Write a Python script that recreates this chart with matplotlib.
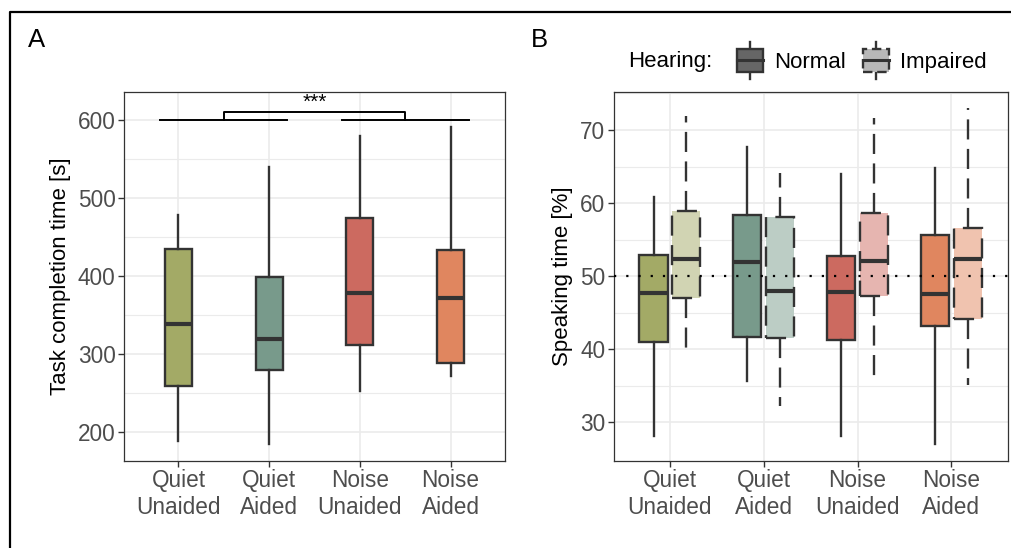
import matplotlib
matplotlib.use("Agg")
import matplotlib.pyplot as plt
from matplotlib.legend_handler import HandlerBase
from matplotlib.patches import Rectangle, Patch
from matplotlib.lines import Line2D
from matplotlib.colors import to_rgba

plt.rcParams['font.family'] = ['Liberation Sans', 'DejaVu Sans']

# categories and colours
conditions = ["Quiet\nUnaided", "Quiet\nAided", "Noise\nUnaided", "Noise\nAided"]
cond_colors = ["#a3aa66", "#789a8b", "#cc6a60", "#e0865f"]

# panel A: task completion time [s]  (low whisker, Q1, median, Q3, high whisker)
task_low = [188, 185, 253, 272]
task_q1 = [259, 279, 312, 289]
task_med = [338, 319, 378, 372]
task_q3 = [435, 399, 474, 433]
task_high = [478, 540, 579, 591]

# panel B: speaking time [%], normal hearing
nh_low = [28.1, 35.7, 28.1, 27.0]
nh_q1 = [41.0, 41.7, 41.3, 43.2]
nh_med = [47.7, 52.0, 47.8, 47.6]
nh_q3 = [52.9, 58.4, 52.7, 55.6]
nh_high = [60.8, 67.7, 64.0, 64.8]

# panel B: speaking time [%], impaired hearing
hi_low = [39.1, 32.2, 35.9, 35.1]
hi_q1 = [47.0, 41.5, 47.3, 44.2]
hi_med = [52.4, 48.0, 52.1, 52.4]
hi_q3 = [58.9, 58.1, 58.6, 56.6]
hi_high = [71.9, 64.1, 71.6, 73.0]

EDGE = "#333333"
GRID = "#ebebeb"
TICKC = "#4d4d4d"
DASH = (0, (8.5, 4))
TICKFS = 16.3
TITLEFS = 16


def stats(low, q1, med, q3, high):
    return [dict(whislo=a, q1=b, med=c, q3=d, whishi=e, fliers=[])
            for a, b, c, d, e in zip(low, q1, med, q3, high)]


def light(c):
    r, g, b, _ = to_rgba(c)
    return (1 - 0.5 * (1 - r), 1 - 0.5 * (1 - g), 1 - 0.5 * (1 - b))


def draw_boxes(ax, st, pos, colors, ls):
    bp = ax.bxp(st, positions=pos, widths=0.3, patch_artist=True,
                showcaps=False, showfliers=False, manage_ticks=False,
                boxprops=dict(edgecolor=EDGE, linewidth=1.7, linestyle=ls),
                whiskerprops=dict(color=EDGE, linewidth=1.7, linestyle=ls),
                medianprops=dict(color=EDGE, linewidth=3.0, solid_capstyle='butt'),
                zorder=3)
    for patch, c in zip(bp['boxes'], colors):
        patch.set_facecolor(c)
    return bp


def style_axes(ax):
    ax.set_facecolor("white")
    for s in ax.spines.values():
        s.set_color(EDGE)
        s.set_linewidth(0.9)
    ax.grid(True, which='major', color=GRID, linewidth=1.2, zorder=0)
    ax.grid(True, which='minor', axis='y', color=GRID, linewidth=0.8, zorder=0)
    ax.set_axisbelow(True)
    ax.tick_params(axis='both', which='major', length=4, width=1.0, color=EDGE,
                   labelcolor=TICKC, labelsize=TICKFS, pad=2)
    ax.tick_params(axis='both', which='minor', length=0)


def set_x(ax):
    ax.set_xticks(range(1, 5))
    ax.set_xticklabels(conditions)
    ax.set_xlim(0.4, 4.6)


fig = plt.figure(figsize=(10.11, 5.48), dpi=100)

# panel A
axA = fig.add_axes([0.1227, 0.1588, 0.3768, 0.6733])
style_axes(axA)
draw_boxes(axA, stats(task_low, task_q1, task_med, task_q3, task_high),
           [1, 2, 3, 4], cond_colors, '-')
set_x(axA)
axA.set_ylim(163, 636)
axA.set_yticks([200, 300, 400, 500, 600])
axA.set_yticks([250, 350, 450, 550], minor=True)
axA.set_ylabel("Task completion time [s]", fontsize=TITLEFS, labelpad=5)

# significance bracket: Quiet vs Noise
axA.plot([0.8, 2.2], [600, 600], color="black", lw=1.4, zorder=4)
axA.plot([2.8, 4.2], [600, 600], color="black", lw=1.4, zorder=4)
axA.plot([1.5, 1.5, 3.5, 3.5], [600, 610, 610, 600], color="black", lw=1.4, zorder=4)
axA.text(2.5, 611, "***", ha='center', va='bottom', fontsize=15)

# panel B
axB = fig.add_axes([0.607, 0.1588, 0.3897, 0.6733])
style_axes(axB)
xs = [1, 2, 3, 4]
draw_boxes(axB, stats(nh_low, nh_q1, nh_med, nh_q3, nh_high),
           [x - 0.175 for x in xs], cond_colors, '-')
draw_boxes(axB, stats(hi_low, hi_q1, hi_med, hi_q3, hi_high),
           [x + 0.175 for x in xs], [light(c) for c in cond_colors], DASH)
set_x(axB)
axB.set_ylim(24.7, 75.2)
axB.set_yticks([30, 40, 50, 60, 70])
axB.set_yticks([35, 45, 55, 65, 75], minor=True)
axB.set_ylabel("Speaking time [%]", fontsize=TITLEFS, labelpad=5)
axB.axhline(50, color="black", lw=1.6, linestyle=(0, (1, 4.5)), zorder=5)


class BoxKey(HandlerBase):
    def create_artists(self, legend, orig_handle, xdescent, ydescent,
                       width, height, fontsize, trans):
        ls = orig_handle.get_linestyle()
        fc = orig_handle.get_facecolor()
        x0, y0 = -xdescent, -ydescent
        cx = x0 + width / 2
        dashed = ls not in ('-', 'solid')
        rect = Rectangle((x0, y0), width, height, facecolor=fc, edgecolor=EDGE,
                         lw=1.7, linestyle=(0, (4, 2)) if dashed else '-',
                         transform=trans)
        med = Line2D([x0, x0 + width], [y0 + height / 2] * 2, color=EDGE, lw=2.2,
                     transform=trans)
        w1 = Line2D([cx, cx], [y0 + height, y0 + height + 5], color=EDGE, lw=1.7,
                    transform=trans)
        w2 = Line2D([cx, cx], [y0 - 5, y0], color=EDGE, lw=1.7, transform=trans)
        return [w1, w2, rect, med]


handles = [Patch(facecolor="#666666", linestyle='-'),
           Patch(facecolor="#b8b8b8", linestyle='--')]
fig.legend(handles, ["Normal", "Impaired"], handler_map={Patch: BoxKey()},
           loc='center left', bbox_to_anchor=(737 / 1011, 1 - 61 / 548),
           ncol=2, frameon=False, fontsize=TITLEFS, handlelength=1.17,
           handleheight=1.2, handletextpad=0.5, columnspacing=0.75,
           borderpad=0, borderaxespad=0)
fig.text(628 / 1011, 1 - 61 / 548, "Hearing:", fontsize=TITLEFS, ha='left', va='center')

# panel letters
fig.text(28 / 1011, 1 - 47 / 548, "A", fontsize=18.5, ha='left', va='baseline')
fig.text(531 / 1011, 1 - 47 / 548, "B", fontsize=18.5, ha='left', va='baseline')

# outer frame (top and left edges)
fig.add_artist(Line2D([10 / 1011, 10 / 1011, 1.0], [0.0, 1 - 12 / 548, 1 - 12 / 548],
                      transform=fig.transFigure, color="black", lw=1.6))

fig.savefig("out.png", dpi=100)
